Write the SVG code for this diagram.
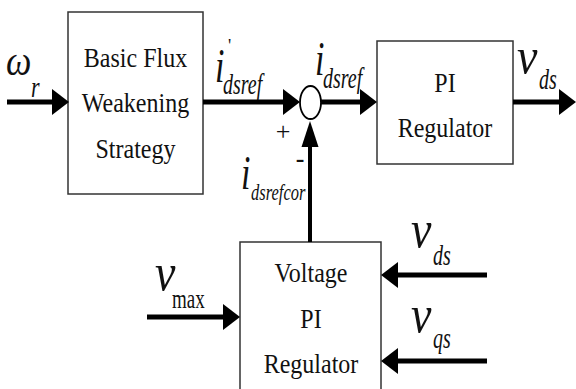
<svg xmlns="http://www.w3.org/2000/svg" width="576" height="389" viewBox="0 0 576 389">
<style>
.box{fill:#fff;stroke:#333;stroke-width:1.5}
text{font-family:'Liberation Serif','DejaVu Serif',serif;fill:#111}
.bt{font-size:24px;text-anchor:middle}
.m{font-style:italic}
.w{stroke:#000;stroke-width:5;fill:none}
.t{stroke:#000;stroke-width:4;fill:none}
</style>
<defs>
<marker id="ah" markerUnits="userSpaceOnUse" markerWidth="20" markerHeight="30" refX="0" refY="0" orient="auto" overflow="visible">
<path d="M0,-13 L17,0 L0,13 z" fill="#000"/>
</marker>
<marker id="av" markerUnits="userSpaceOnUse" markerWidth="30" markerHeight="20" refX="0" refY="0" orient="auto" overflow="visible">
<path d="M0,-8.5 L26,0 L0,8.5 z" fill="#000"/>
</marker>
</defs>
<rect width="576" height="389" fill="#fff"/>

<g id="flux">
<rect class="box" x="68" y="12" width="135" height="182"/>
<text class="bt" transform="translate(135.5,67) scale(1,1.15)">Basic Flux</text>
<text class="bt" transform="translate(135.5,112) scale(1,1.15)">Weakening</text>
<text class="bt" transform="translate(135.5,158) scale(1,1.15)">Strategy</text>
</g>

<g id="sum">
<ellipse cx="310.5" cy="102.5" rx="10.5" ry="16.5" fill="#fff" stroke="#000" stroke-width="1.8"/>
<text font-size="26" text-anchor="middle" transform="translate(283,140)">+</text>
<text font-size="26" font-weight="bold" text-anchor="middle" transform="translate(300,167)">-</text>
</g>

<g id="pi">
<rect class="box" x="377" y="41" width="136" height="123"/>
<text class="bt" transform="translate(445,92) scale(1,1.15)">PI</text>
<text class="bt" transform="translate(445,137) scale(1,1.15)">Regulator</text>
</g>

<g id="vpi">
<rect class="box" x="240" y="242" width="141" height="160"/>
<text class="bt" transform="translate(311,282) scale(1,1.18)">Voltage</text>
<text class="bt" transform="translate(311,328) scale(1,1.18)">PI</text>
<text class="bt" transform="translate(311,373) scale(1,1.18)">Regulator</text>
</g>

<g id="connectors">
<path class="w" d="M7,102 H52" marker-end="url(#ah)"/>
<path class="w" d="M203,102 H283" marker-end="url(#ah)"/>
<path class="w" d="M321,102 H360" marker-end="url(#ah)"/>
<path class="w" d="M513,102 H559" marker-end="url(#ah)"/>
<path class="t" d="M310,242 V147" marker-end="url(#av)"/>
<path class="w" d="M147,317 H223" marker-end="url(#ah)"/>
<path class="w" d="M487,275 H398" marker-end="url(#ah)"/>
<path class="w" d="M487,361 H398" marker-end="url(#ah)"/>
</g>

<g id="labels">
<text class="m" font-size="36" transform="translate(6,75) scale(1,1.15)">ω</text>
<text class="m" font-size="22" transform="translate(31,97) scale(1,1.35)">r</text>
<text class="m" font-size="34" transform="translate(215,82) scale(1,1.4)">i</text>
<text font-size="18" transform="translate(228,52)">'</text>
<text class="m" font-size="20" transform="translate(223,94) scale(1,1.45)">dsref</text>
<text class="m" font-size="34" transform="translate(315,75) scale(1,1.4)">i</text>
<text class="m" font-size="20" transform="translate(323,88) scale(1,1.45)">dsref</text>
<text class="m" font-size="34" transform="translate(241,189) scale(1,1.4)">i</text>
<text class="m" font-size="16.5" transform="translate(251,200) scale(1,1.45)">dsrefcor</text>
<text class="m" font-size="46" transform="translate(517,73) scale(1,1.1)">v</text>
<text class="m" font-size="20" transform="translate(539,89) scale(1,1.45)">ds</text>
<text class="m" font-size="46" transform="translate(155,290) scale(1,1.15)">v</text>
<text font-size="19" transform="translate(172,308) scale(1,1.4)">max</text>
<text class="m" font-size="46" transform="translate(411,247) scale(1,1.15)">v</text>
<text class="m" font-size="20" transform="translate(433,265) scale(1,1.45)">ds</text>
<text class="m" font-size="46" transform="translate(411,332) scale(1,1.15)">v</text>
<text class="m" font-size="20" transform="translate(433,348) scale(1,1.45)">qs</text>
</g>
</svg>
